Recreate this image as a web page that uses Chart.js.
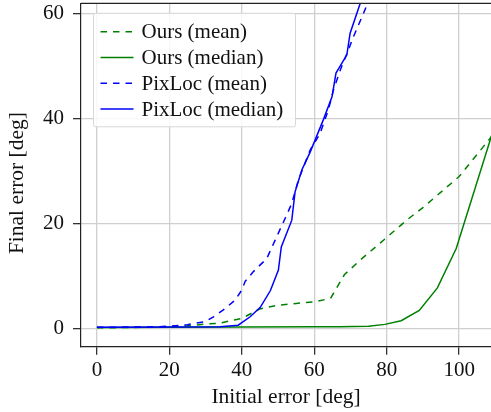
<!DOCTYPE html>
<html>
<head>
<meta charset="utf-8">
<script src="https://cdn.jsdelivr.net/npm/chart.js@4.4.1/dist/chart.umd.min.js"></script>
<style>
  html, body { margin: 0; padding: 0; background: #fff; }
  #wrap { width: 491px; height: 412px; }
</style>
</head>
<body>
<div id="wrap"><canvas id="errChart" width="491" height="412"></canvas></div>
<script>
// values (initial error -> final error, deg)
const oursMeanX = [0, 10, 20, 25, 30, 34, 40, 45, 50, 55, 60, 64.5, 68.3, 72.7, 80, 85.5, 90, 100, 106.7, 110];
const oursMeanY = [0.1, 0.15, 0.3, 0.5, 0.8, 1.0, 1.9, 3.7, 4.4, 4.75, 5.05, 5.7, 10.2, 13, 17.3, 20.6, 23, 28.9, 34.6, 37.4];

const oursMedianX = [0, 20, 40, 60, 67, 75, 79.5, 84, 89, 94, 99.2, 110];
const oursMedianY = [0.15, 0.2, 0.25, 0.3, 0.3, 0.4, 0.75, 1.45, 3.4, 7.7, 15.2, 39];

const pixMeanX = [0, 15, 20, 25, 30, 32.2, 34.9, 38.2, 40, 40.9, 43.2, 46.9, 49.2, 52.4, 53.8, 55.6, 58.9, 61.6, 63.9, 65.3, 67.2, 69.4, 70.8, 73.6, 76];
const pixMeanY = [0.2, 0.25, 0.4, 0.7, 1.3, 2.2, 3.5, 5.4, 7.3, 8.9, 10.8, 13.3, 16.8, 21.6, 23.8, 28.2, 34, 37.1, 41.6, 45.4, 49.2, 53, 55.5, 60, 64];

const pixMedianX = [0, 20, 34, 39, 42.3, 45.1, 47.9, 50.1, 50.9, 53.8, 54.7, 56.6, 58.9, 62.5, 64.9, 66, 69, 69.9, 72.7, 75];
const pixMedianY = [0.2, 0.25, 0.3, 0.6, 2.2, 4, 7.2, 11.1, 15.5, 20.6, 26, 30.2, 33.6, 39.7, 44.1, 48.6, 52.1, 56.2, 61.9, 66];

const xTicks = [0, 20, 40, 60, 80, 100];
const yTicks = [0, 20, 40, 60];

const GREEN = '#008000';
const BLUE = '#0000ff';
const FONT = "'Liberation Serif', 'Times New Roman', serif";
const DASH = [6.5, 6];

function pts(xs, ys) {
  return xs.map((x, i) => ({ x: x, y: ys[i] }));
}

function series(label, xs, ys, color, dashed, order) {
  return {
    label: label,
    data: pts(xs, ys),
    borderColor: color,
    borderWidth: 1.5,
    borderDash: dashed ? DASH : [],
    pointRadius: 0,
    tension: 0,
    fill: false,
    order: order
  };
}

// legend box inside the axes, plus the top spine
const framePlugin = {
  id: 'frame',
  afterDatasetsDraw(chart) {
    const ctx = chart.ctx;
    const a = chart.chartArea;
    ctx.save();
    ctx.strokeStyle = '#222';
    ctx.lineWidth = 1.2;
    ctx.beginPath();
    ctx.moveTo(a.left, a.top);
    ctx.lineTo(a.right, a.top);
    ctx.stroke();

    const bx = a.left + 12.5, by = a.top + 10, bw = 202, bh = 113.5;
    ctx.fillStyle = 'rgba(255,255,255,0.85)';
    ctx.strokeStyle = '#d8d8d8';
    ctx.lineWidth = 1;
    ctx.beginPath();
    ctx.roundRect(bx, by, bw, bh, 2);
    ctx.fill();
    ctx.stroke();

    ctx.font = '21px ' + FONT;
    ctx.textBaseline = 'middle';
    ctx.textAlign = 'left';
    chart.data.datasets.forEach((ds, i) => {
      const ry = by + 18.4 + i * 25.8;
      ctx.strokeStyle = ds.borderColor;
      ctx.lineWidth = 1.5;
      ctx.setLineDash(ds.borderDash);
      ctx.beginPath();
      ctx.moveTo(bx + 7, ry);
      ctx.lineTo(bx + 40, ry);
      ctx.stroke();
      ctx.setLineDash([]);
      ctx.fillStyle = '#111';
      ctx.fillText(ds.label, bx + 48, ry + 1);
    });
    ctx.restore();
  }
};

new Chart(document.getElementById('errChart'), {
  type: 'line',
  data: {
    datasets: [
      series('Ours (mean)', oursMeanX, oursMeanY, GREEN, true, 2),
      series('Ours (median)', oursMedianX, oursMedianY, GREEN, false, 1),
      series('PixLoc (mean)', pixMeanX, pixMeanY, BLUE, true, 0),
      series('PixLoc (median)', pixMedianX, pixMedianY, BLUE, false, 0)
    ]
  },
  options: {
    responsive: false,
    animation: false,
    layout: { padding: { top: 3.3, right: 0, left: 0, bottom: 0 }, autoPadding: false },
    plugins: {
      legend: { display: false },
      tooltip: { enabled: false }
    },
    scales: {
      x: {
        type: 'linear',
        min: -4.4,
        max: 108.8,
        afterFit: s => { s.height = 65.3; s.paddingLeft = 0; s.paddingRight = 0; },
        afterBuildTicks: s => { s.ticks = xTicks.map(v => ({ value: v })); },
        grid: { color: '#cfcfcf', lineWidth: 1.3, tickColor: '#333', tickLength: 8 },
        border: { display: true, color: '#222', width: 1.2 },
        ticks: { color: '#111', font: { family: FONT, size: 21 }, padding: 3, maxRotation: 0 },
        title: { display: true, text: 'Initial error [deg]', color: '#111', font: { family: FONT, size: 21.5 }, padding: { top: 0, bottom: 2 } }
      },
      y: {
        type: 'linear',
        min: -3.5,
        max: 61.9,
        afterFit: s => { s.width = 81; s.paddingTop = 0; s.paddingBottom = 0; },
        afterBuildTicks: s => { s.ticks = yTicks.map(v => ({ value: v })); },
        grid: { color: '#cfcfcf', lineWidth: 1.3, tickColor: '#333', tickLength: 8 },
        border: { display: true, color: '#222', width: 1.2 },
        ticks: { color: '#111', font: { family: FONT, size: 21 }, padding: 9 },
        title: { display: true, text: 'Final error [deg]   ', color: '#111', font: { family: FONT, size: 21.5 }, padding: { top: 4, bottom: 0 } }
      }
    }
  },
  plugins: [framePlugin]
});
</script>
</body>
</html>
